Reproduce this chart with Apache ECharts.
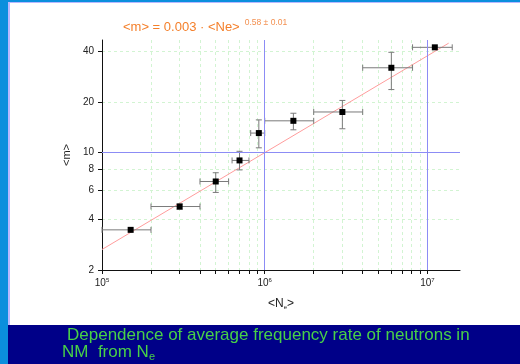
<!DOCTYPE html>
<html>
<head>
<meta charset="utf-8">
<script src="https://cdn.jsdelivr.net/npm/echarts@6/dist/echarts.min.js"></script>
<style>
  html, body { margin: 0; padding: 0; background: #fff; }
  #chart { width: 520px; height: 364px; }
</style>
</head>
<body>
<div id="chart"></div>
<script>
const neMean = [1.5e5, 3.0e5, 5.0e5, 7.0e5, 9.2e5, 1.5e6, 3.0e6, 6.0e6, 1.11e7];
const mMean = [3.47, 4.78, 6.74, 9.0, 13.1, 15.5, 17.5, 32.1, 42.5];
const neLow = [1.0e5, 2.0e5, 4.0e5, 6.3e5, 8.2e5, 1.0e6, 2.0e6, 4.0e6, 8.1e6];
const neHigh = [2.0e5, 4.0e5, 6.0e5, 8.0e5, 1.0e6, 2.0e6, 4.0e6, 8.1e6, 1.42e7];
const mLow = [3.47, 4.6, 5.8, 7.9, 10.7, 13.7, 13.9, 23.8, 42.5];
const mHigh = [3.47, 4.95, 7.6, 10.2, 15.7, 17.2, 20.5, 39.7, 42.5];

// fitted power law, drawn as a straight segment in log-log
const fitLine = [[1e5, 2.65], [1.35e7, 45]];

const xLabelValues = [1e5, 1e6, 1e7];
const xTickValues = [1e5, 2e5, 3e5, 4e5, 5e5, 6e5, 7e5, 8e5, 9e5,
  1e6, 2e6, 3e6, 4e6, 5e6, 6e6, 7e6, 8e6, 9e6, 1e7];
const yTickValues = [2, 4, 6, 8, 10, 20, 40];
const guideX = [1e6, 1e7];
const guideY = [10];

const FONT = "Liberation Sans, Arial, sans-serif";
const chart = echarts.init(document.getElementById("chart"), null, { renderer: "canvas" });

const errData = neMean.map((x, i) => [x, mMean[i], neLow[i], neHigh[i], mLow[i], mHigh[i]]);

function renderErr(params, api) {
  const x = api.value(0), y = api.value(1);
  const l = api.coord([api.value(2), y]);
  const r = api.coord([api.value(3), y]);
  const lo = api.coord([x, api.value(4)]);
  const hi = api.coord([x, api.value(5)]);
  const st = { stroke: "#7a7a7a", lineWidth: 1 };
  const cap = 3;
  const kids = [
    { type: "line", shape: { x1: l[0], y1: l[1], x2: r[0], y2: r[1] }, style: st },
    { type: "line", shape: { x1: l[0], y1: l[1] - cap, x2: l[0], y2: l[1] + cap }, style: st },
    { type: "line", shape: { x1: r[0], y1: r[1] - cap, x2: r[0], y2: r[1] + cap }, style: st },
  ];
  if (Math.abs(hi[1] - lo[1]) > 2) {
    kids.push(
      { type: "line", shape: { x1: lo[0], y1: lo[1], x2: hi[0], y2: hi[1] }, style: st },
      { type: "line", shape: { x1: lo[0] - cap, y1: lo[1], x2: lo[0] + cap, y2: lo[1] }, style: st },
      { type: "line", shape: { x1: hi[0] - cap, y1: hi[1], x2: hi[0] + cap, y2: hi[1] }, style: st }
    );
  }
  return { type: "group", children: kids };
}

const gridLine = { show: true, lineStyle: { color: "#d2f4d2", type: [3, 3], width: 1 } };

chart.setOption({
  animation: false,
  textStyle: { fontFamily: FONT },
  graphic: [
    { type: "rect", shape: { x: 0, y: 0, width: 8, height: 364 }, style: { fill: "#0b8fdd" }, z: 100 },
    { type: "rect", shape: { x: 0, y: 0, width: 520, height: 2 }, style: { fill: "#0b8fdd" }, z: 100 },
    { type: "rect", shape: { x: 8, y: 2, width: 2, height: 323 }, style: { fill: "#b8b8ff" }, z: 100 },
    { type: "rect", shape: { x: 8, y: 2, width: 512, height: 1 }, style: { fill: "#b8b8ff" }, z: 100 },
    { type: "rect", shape: { x: 8, y: 325, width: 512, height: 39 }, style: { fill: "#000088" }, z: 100 },
    {
      type: "text", left: 67, top: 327, z: 101,
      style: { text: "Dependence of average frequency rate of neutrons in", fill: "#48d048", font: "17px " + FONT },
    },
    {
      type: "text", left: 62, top: 344, z: 101,
      style: {
        text: "{a|NM  from N}{s|e}",
        rich: {
          a: { fill: "#48d048", fontSize: 17, fontFamily: FONT },
          s: { fill: "#48d048", fontSize: 11, fontFamily: FONT, padding: [8, 0, 0, 0] },
        },
      },
    },
  ],
  title: {
    left: 118, top: 13,
    text: "{a|<m> = 0.003 · <Ne>} {b|0.58 ± 0.01}",
    textStyle: {
      fontWeight: "normal",
      rich: {
        a: { color: "#f47f2a", fontSize: 13, fontWeight: "normal", fontFamily: FONT },
        b: { color: "#f39050", fontSize: 8.5, fontWeight: "normal", fontFamily: FONT, padding: [0, 0, 9, 0] },
      },
    },
  },
  grid: { left: 102, right: 60, top: 40, bottom: 94 },
  xAxis: {
    type: "log", logBase: 10, min: 1e5, max: 1.585e7,
    name: "{a|<N}{s|e}{a|>}", nameLocation: "middle", nameGap: 27,
    nameTextStyle: {
      rich: {
        a: { fontSize: 12, color: "#222", fontFamily: FONT },
        s: { fontSize: 6, color: "#222", fontFamily: FONT, padding: [7, 0, 0, 0] },
      },
    },
    axisLine: { show: true, lineStyle: { color: "#111", width: 1 } },
    axisTick: { show: true, length: 4, lineStyle: { color: "#111" }, customValues: xTickValues },
    axisLabel: {
      customValues: xLabelValues, margin: 7,
      formatter: (v) => "{b|10}{s|" + Math.round(Math.log10(v)) + "}",
      rich: {
        b: { fontSize: 10, color: "#222", fontFamily: FONT },
        s: { fontSize: 6, color: "#222", fontFamily: FONT, padding: [0, 0, 7, 0] },
      },
    },
    splitLine: gridLine,
  },
  yAxis: {
    type: "log", logBase: 10, min: 2, max: 47,
    name: "<m>", nameLocation: "middle", nameGap: 30, nameRotate: 90,
    nameTextStyle: { fontSize: 11, color: "#222", fontFamily: FONT },
    axisLine: { show: true, lineStyle: { color: "#111", width: 1 } },
    axisTick: { show: true, length: 4, lineStyle: { color: "#111" }, customValues: yTickValues },
    axisLabel: { customValues: yTickValues, margin: 8, fontSize: 10, color: "#222", fontFamily: FONT },
    splitLine: gridLine,
  },
  series: [
    {
      type: "line", data: fitLine, showSymbol: false, silent: true, z: 3,
      lineStyle: { color: "#ff9c9c", width: 1 },
      markLine: {
        silent: true, symbol: "none", label: { show: false },
        lineStyle: { color: "#8c8cf5", type: "solid", width: 1 },
        data: guideX.map((v) => ({ xAxis: v })).concat(guideY.map((v) => ({ yAxis: v }))),
      },
    },
    { type: "custom", data: errData, renderItem: renderErr, encode: { x: 0, y: 1 }, z: 4, silent: true },
    {
      type: "scatter", data: neMean.map((x, i) => [x, mMean[i]]), z: 5,
      symbol: "rect", symbolSize: 6, itemStyle: { color: "#000", opacity: 1 },
    },
  ],
});
</script>
</body>
</html>
